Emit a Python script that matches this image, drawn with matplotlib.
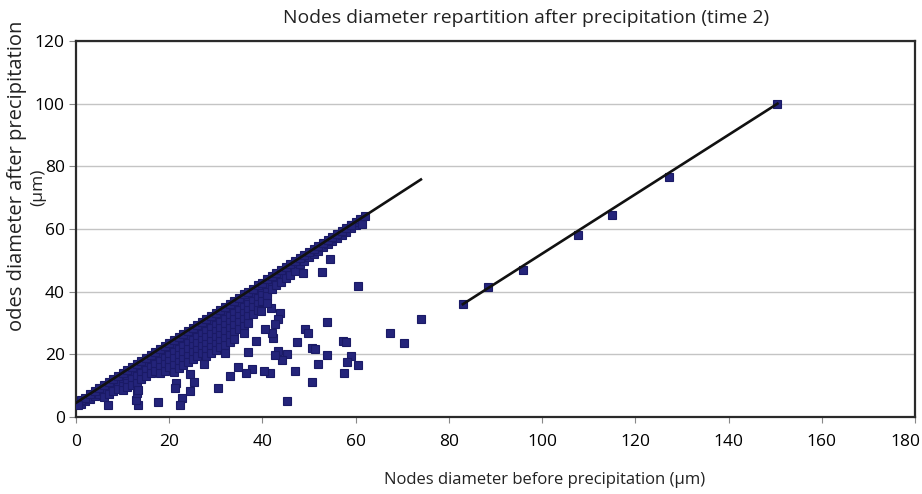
import matplotlib
matplotlib.use("Agg")
import matplotlib.pyplot as plt
from matplotlib.transforms import offset_copy

plt.rcParams['font.family'] = ['Open Sans', 'DejaVu Sans']

# nodes sitting on the 1:1 growth line (small diameters)
line_x = [0, 1, 2, 3, 4, 5, 6, 7, 8, 9, 10, 11, 12, 13, 14, 15, 16, 17, 18, 19, 20,
          21, 22, 23, 24, 25, 26, 27, 28, 29, 30, 31, 32, 33, 34, 35, 36, 37, 38, 39, 40,
          41, 42, 43, 44, 45, 46, 47, 48, 49, 50, 51, 52, 53, 54, 55, 56, 57, 58, 59, 60, 61]
line_y = [4.3, 5.3, 6.2, 7.2, 8.2, 9.1, 10.1, 11.1, 12.0, 13.0, 14.0, 14.9, 15.9, 16.9, 17.8,
          18.8, 19.8, 20.7, 21.7, 22.7, 23.6, 24.6, 25.6, 26.5, 27.5, 28.5, 29.4, 30.4, 31.3,
          32.3, 33.3, 34.2, 35.2, 36.2, 37.1, 38.1, 39.1, 40.0, 41.0, 42.0, 42.9, 43.9, 44.9,
          45.8, 46.8, 47.8, 48.7, 49.7, 50.7, 51.6, 52.6, 53.6, 54.5, 55.5, 56.5, 57.4, 58.4,
          59.4, 60.3, 61.3, 62.3, 63.2]

# nodes slightly shrunk, forming the wedge under the line
wedge_x = [1, 2, 3, 4, 5, 6, 6, 7, 7, 8, 8, 9, 9,
           10, 10, 10, 11, 11, 11, 12, 12, 12, 13, 13, 13, 14, 14, 14, 15, 15, 15,
           16, 16, 16, 17, 17, 17, 18, 18, 18, 18, 19, 19, 19, 19, 20, 20, 20, 20,
           21, 21, 21, 21, 21, 22, 22, 22, 22, 22, 23, 23, 23, 23, 23,
           24, 24, 24, 24, 24, 25, 25, 25, 25, 25, 26, 26, 26, 26, 26,
           27, 27, 27, 27, 27, 28, 28, 28, 28, 28, 28, 29, 29, 29, 29, 29, 29,
           30, 30, 30, 30, 30, 30, 31, 31, 31, 31, 31, 31, 32, 32, 32, 32, 32, 32, 32,
           33, 33, 33, 33, 33, 33, 34, 34, 34, 34, 34, 34, 35, 35, 35, 35, 35,
           36, 36, 36, 36, 36, 36, 37, 37, 37, 37, 37, 38, 38, 38, 38, 39, 39, 39, 39,
           40, 40, 40, 41, 41, 41, 42, 42, 43, 43, 44, 44, 45, 45, 46, 46, 47, 47,
           48, 49, 50, 51, 52, 53, 54, 55, 56, 57, 58, 59, 60]
wedge_y = [4.0, 5.0, 5.8, 6.8, 7.2, 8.3, 6.5, 9.2, 7.3, 10.0, 8.2, 11.0, 9.0,
           12.0, 10.0, 8.5, 13.0, 11.0, 9.5, 14.0, 12.0, 10.2, 15.0, 13.0, 11.0,
           16.0, 14.0, 12.0, 17.0, 15.0, 13.2, 18.0, 16.0, 14.0, 18.8, 16.8, 14.8,
           19.8, 17.8, 15.8, 14.0, 20.8, 18.8, 16.8, 14.8, 21.8, 19.8, 17.8, 15.8,
           22.7, 20.7, 18.7, 16.7, 14.5, 23.7, 21.7, 19.7, 17.7, 15.5,
           24.6, 22.6, 20.6, 18.6, 16.6, 25.6, 23.6, 21.6, 19.6, 17.5,
           26.6, 24.6, 22.6, 20.6, 18.6, 27.5, 25.5, 23.5, 21.5, 19.5,
           28.5, 26.5, 24.5, 22.5, 20.5, 29.4, 27.4, 25.4, 23.4, 21.4, 19.4,
           30.4, 28.4, 26.4, 24.4, 22.4, 20.4, 31.4, 29.4, 27.4, 25.4, 23.4, 21.4,
           32.3, 30.3, 28.3, 26.3, 24.3, 22.3, 33.3, 31.3, 29.3, 27.3, 25.3, 23.0, 20.5,
           34.3, 32.3, 30.3, 28.3, 26.3, 24.0, 35.2, 33.2, 31.2, 29.2, 27.2, 25.0,
           36.2, 34.2, 32.2, 30.2, 28.0, 37.2, 35.2, 33.2, 31.2, 29.0, 26.8,
           38.1, 36.1, 34.1, 32.1, 30.0, 39.1, 37.1, 35.1, 33.0, 40.1, 38.1, 36.1, 34.0,
           41.0, 39.0, 37.0, 42.0, 40.0, 38.5, 43.0, 41.0, 43.9, 42.0, 44.9, 43.2,
           45.9, 44.2, 46.8, 45.3, 47.8, 46.5,
           48.9, 49.9, 51.0, 52.0, 53.0, 54.2, 55.2, 56.2, 57.2, 58.2, 59.2, 60.3, 61.2]

# isolated nodes well below the line
out_x = [74.0, 67.4, 70.4, 60.4, 61.3, 62.0, 59.0, 54.6, 52.7, 48.6, 53.9, 57.2, 57.9,
         59.0, 58.2, 60.4, 57.4, 53.8, 51.9, 50.6, 50.6, 51.3, 49.1, 49.7, 47.5, 47.0,
         45.3, 45.3, 44.1, 43.3, 42.7, 41.6, 40.3, 42.2, 42.1, 40.5, 43.8, 43.3, 42.7,
         39.7, 41.8, 40.9, 38.6, 37.8, 36.4, 34.8, 33.0, 37.0, 30.5, 27.5, 25.3, 24.5,
         24.5, 22.8, 22.3, 21.5, 21.2, 17.5, 13.2, 12.9, 13.0, 13.2, 6.8, 0.5]
out_y = [31.2, 26.7, 23.5, 41.9, 61.6, 64.2, 61.3, 50.4, 46.4, 46.1, 30.2, 24.3, 23.8,
         19.5, 17.5, 16.6, 14.1, 19.9, 17.0, 11.1, 22.1, 21.8, 28.1, 26.7, 23.8, 14.7,
         5.1, 20.0, 18.2, 21.2, 19.8, 14.1, 14.7, 25.1, 26.7, 28.0, 33.1, 31.3, 29.7,
         33.9, 34.7, 36.3, 24.3, 15.2, 13.9, 15.9, 13.1, 20.7, 9.4, 16.8, 11.1, 13.6,
         8.3, 6.2, 3.8, 11.0, 9.4, 4.7, 3.8, 5.4, 7.6, 8.6, 3.8, 3.8]

# large nodes
big_x = [83.0, 88.5, 95.8, 107.6, 115.0, 127.3, 150.5]
big_y = [36.0, 41.6, 46.8, 58.1, 64.5, 76.5, 99.8]

# trend lines
trend1_x = [0, 74]
trend1_y = [4.5, 75.8]
trend2_x = [83.0, 150.5]
trend2_y = [36.0, 100.0]

fig = plt.figure(figsize=(9.22, 4.94), dpi=100)
ax = fig.add_axes([0.0824, 0.1559, 0.9100, 0.7611])

mk = dict(marker='s', linestyle='none', markersize=5.4,
          markerfacecolor='#24247a', markeredgecolor='#1a1a66', markeredgewidth=0.8)
ax.plot(wedge_x, wedge_y, **mk, zorder=3)
ax.plot(line_x, line_y, **mk, zorder=3)
ax.plot(out_x, out_y, **mk, zorder=3)
ax.plot(big_x, big_y, **mk, zorder=3)

ax.plot(trend1_x, trend1_y, color='#111111', lw=1.9, zorder=4)
ax.plot(trend2_x, trend2_y, color='#111111', lw=1.9, zorder=4)

ax.set_xlim(0, 180)
ax.set_ylim(0, 120)
ax.set_xticks(range(0, 181, 20))
ax.set_yticks(range(0, 121, 20))
ax.yaxis.grid(True, color='#c4c4c4', lw=1.0)
ax.set_axisbelow(True)

for s in ax.spines.values():
    s.set_color('#2a2a2a')
    s.set_linewidth(1.6)

ax.tick_params(axis='y', length=5, width=0.8, color='#888888', pad=3, labelsize=12.5)
ax.tick_params(axis='x', length=4, width=0.8, color='#888888', pad=8, labelsize=12.5)

# keep the last x label inside the figure
last = ax.get_xticklabels()[-1]
last.set_ha('right')
last.set_transform(offset_copy(last.get_transform(), fig=fig, x=5, y=0, units='dots'))

fig.text(0.571, 0.963, 'Nodes diameter repartition after precipitation (time 2)',
         ha='center', va='center', fontsize=13.9, color='#222222')
fig.text(0.591, 0.028, 'Nodes diameter before precipitation (µm)',
         ha='center', va='center', fontsize=12, color='#222222')
fig.text(0.018, 0.644, 'odes diameter after precipitation', rotation=90,
         ha='center', va='center', fontsize=14.5, color='#222222')
fig.text(0.0415, 0.620, '(µm)', rotation=90,
         ha='center', va='center', fontsize=12.5, color='#222222')

fig.savefig('out.png', dpi=100)
